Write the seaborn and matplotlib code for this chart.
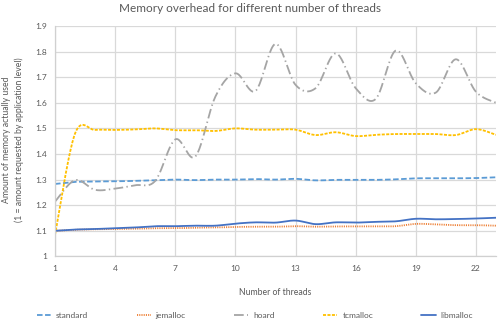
import numpy as np
import pandas as pd
import seaborn as sns
import matplotlib
matplotlib.use("Agg")
import matplotlib.pyplot as plt

threads = list(range(1, 24))

standard = [1.283, 1.291, 1.292, 1.293, 1.295, 1.297, 1.300, 1.298, 1.300, 1.300,
            1.302, 1.300, 1.303, 1.297, 1.299, 1.299, 1.299, 1.301, 1.305, 1.305,
            1.305, 1.306, 1.309]
jemalloc = [1.100, 1.104, 1.106, 1.107, 1.108, 1.110, 1.110, 1.112, 1.113, 1.115,
            1.116, 1.116, 1.118, 1.116, 1.117, 1.117, 1.117, 1.118, 1.127, 1.125,
            1.122, 1.122, 1.120]
hoard = [1.214, 1.298, 1.260, 1.265, 1.278, 1.295, 1.457, 1.390, 1.624, 1.715,
         1.646, 1.830, 1.670, 1.657, 1.793, 1.657, 1.615, 1.804, 1.676, 1.640,
         1.770, 1.643, 1.600]
tcmalloc = [1.084, 1.480, 1.494, 1.494, 1.496, 1.500, 1.493, 1.493, 1.490, 1.500,
            1.495, 1.495, 1.495, 1.474, 1.485, 1.470, 1.475, 1.478, 1.478, 1.478,
            1.474, 1.497, 1.475]
libmalloc = [1.100, 1.105, 1.107, 1.110, 1.113, 1.118, 1.118, 1.120, 1.120, 1.128,
             1.133, 1.132, 1.140, 1.126, 1.133, 1.132, 1.135, 1.137, 1.147, 1.145,
             1.146, 1.148, 1.151]

series_names = ["standard", "jemalloc", "hoard", "tcmalloc", "libmalloc"]
series_values = [standard, jemalloc, hoard, tcmalloc, libmalloc]
colors = ["#5B9BD5", "#ED7D31", "#A5A5A5", "#FFC000", "#4472C4"]
styles = [(0, (4.0, 1.8)), (0, (0.8, 0.8)), (0, (7.0, 2.4, 1.0, 2.4)),
          (0, (2.2, 1.0)), "-"]

x_ticks = [1, 4, 7, 10, 13, 16, 19, 22]
y_ticks = [1, 1.1, 1.2, 1.3, 1.4, 1.5, 1.6, 1.7, 1.8, 1.9]
y_tick_labels = ["1", "1.1", "1.2", "1.3", "1.4", "1.5", "1.6", "1.7", "1.8", "1.9"]


def smooth(xs, ys, steps=24):
    """Catmull-Rom style Bezier smoothing through every data point."""
    xs = np.asarray(xs, float)
    ys = np.asarray(ys, float)
    px = np.concatenate([[xs[0]], xs, [xs[-1]]])
    py = np.concatenate([[ys[0]], ys, [ys[-1]]])
    out_x, out_y = [], []
    t = np.linspace(0, 1, steps, endpoint=False)
    for i in range(1, len(px) - 2):
        p0 = np.array([px[i], py[i]])
        p3 = np.array([px[i + 1], py[i + 1]])
        c1 = p0 + (np.array([px[i + 1], py[i + 1]]) - np.array([px[i - 1], py[i - 1]])) / 6
        c2 = p3 - (np.array([px[i + 2], py[i + 2]]) - np.array([px[i], py[i]])) / 6
        b = ((1 - t) ** 3)[:, None] * p0 + (3 * (1 - t) ** 2 * t)[:, None] * c1 \
            + (3 * (1 - t) * t ** 2)[:, None] * c2 + (t ** 3)[:, None] * p3
        out_x.extend(b[:, 0])
        out_y.extend(b[:, 1])
    out_x.append(xs[-1])
    out_y.append(ys[-1])
    return np.array(out_x), np.array(out_y)


sns.set_theme(style="whitegrid")
plt.rcParams["font.family"] = ["Lato", "DejaVu Sans"]
plt.rcParams["lines.scale_dashes"] = False

W, H = 500, 324
fig = plt.figure(figsize=(W / 100, H / 100), dpi=100)
ax = fig.add_axes([55 / W, 1 - 256.4 / H, (496 - 55) / W, (256.4 - 26) / H])

for name, vals, col, ls in zip(series_names, series_values, colors, styles):
    sx, sy = smooth(threads, vals)
    df = pd.DataFrame({"x": sx, "y": sy})
    sns.lineplot(data=df, x="x", y="y", ax=ax, color=col, linestyle=ls,
                 linewidth=1.3, label=name, sort=False, estimator=None)

ax.set_xlim(1, 23)
ax.set_ylim(1, 1.9)
ax.set_xticks(x_ticks)
ax.set_xticklabels([str(v) for v in x_ticks])
ax.set_yticks(y_ticks)
ax.set_yticklabels(y_tick_labels)
ax.set_xlabel("")
ax.set_ylabel("")

grid_col = "#D9D9D9"
ax.grid(True, color=grid_col, linewidth=0.9)
ax.set_axisbelow(True)
for side in ["top", "right"]:
    ax.spines[side].set_visible(False)
for side in ["left", "bottom"]:
    ax.spines[side].set_color("#D0D0D0")
    ax.spines[side].set_linewidth(0.9)

text_col = "#595959"
ax.tick_params(axis="both", length=0, labelsize=6, colors=text_col, pad=6)

fig.text(250 / W, 1 - 8.5 / H, "Memory overhead for different number of threads",
         ha="center", va="center", fontsize=8.5, color=text_col)
fig.text(275 / W, 1 - 292.3 / H, "Number of threads",
         ha="center", va="center", fontsize=6.2, color=text_col)
fig.text(13 / W, 1 - 140 / H,
         "Amount of memory actually used\n(1 = amount requested by application level)",
         ha="center", va="center", rotation=90, fontsize=6.2, color=text_col,
         linespacing=1.35, multialignment="center")

handles, labels = ax.get_legend_handles_labels()
ax.get_legend().remove()
fig.legend(handles, labels, loc="center", bbox_to_anchor=(255 / W, 1 - 315.7 / H),
           ncol=5, frameon=False, fontsize=6, labelcolor=text_col,
           handlelength=1.7, handletextpad=0.6, columnspacing=5.8,
           borderaxespad=0, borderpad=0)

fig.savefig("out.png", dpi=100)
